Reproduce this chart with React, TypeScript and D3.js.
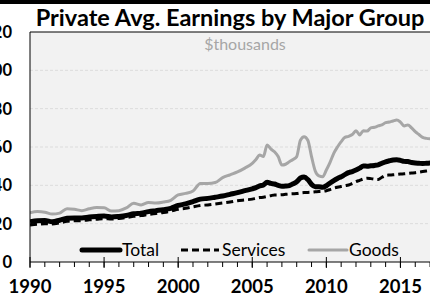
import React from "react";
import * as d3 from "d3";

const dates = [
  1990, 1990.5, 1991, 1991.5, 1992, 1992.5, 1993, 1993.5, 1994, 1994.5,
  1995, 1995.5, 1996, 1996.5, 1997, 1997.5, 1998, 1998.5, 1999, 1999.5,
  2000, 2000.5, 2001, 2001.5, 2002, 2002.5, 2003, 2003.5, 2004, 2004.5,
  2005, 2005.25, 2005.5, 2005.75, 2006, 2006.25, 2006.5, 2006.75,
  2007, 2007.25, 2007.5, 2007.75, 2008, 2008.25, 2008.5, 2008.75,
  2009, 2009.25, 2009.5, 2009.75, 2010, 2010.25, 2010.5, 2010.75,
  2011, 2011.25, 2011.5, 2011.75, 2012, 2012.25, 2012.5, 2012.75,
  2013, 2013.25, 2013.5, 2013.75, 2014, 2014.25, 2014.5, 2014.75,
  2015, 2015.25, 2015.5, 2015.75, 2016, 2016.25, 2016.5, 2016.75, 2017,
];

const goods = [
  25.7, 26.3, 26.0, 25.0, 25.5, 27.8, 27.5, 26.8, 27.8, 28.4,
  28.3, 26.6, 26.8, 28.2, 30.6, 29.8, 31.0, 30.8, 31.3, 32.2,
  35.0, 35.8, 37.0, 41.0, 41.0, 41.5, 44.0, 45.5, 47.0, 49.0,
  51.5, 53.5, 55.8, 55.0, 61.0, 59.0, 57.5, 55.0,
  50.6, 51.0, 52.3, 53.5, 55.0, 63.5, 65.4, 63.5,
  55.0, 47.5, 44.9, 44.5, 48.0, 52.0, 56.7, 60.0,
  62.8, 65.0, 65.5, 66.5, 68.5, 66.3, 68.5, 68.3,
  70.0, 70.3, 71.0, 71.5, 72.7, 73.0, 73.6, 74.1,
  73.0, 71.0, 71.5, 70.0, 68.0, 66.5, 65.0, 64.5, 64.3,
];

const total = [
  21.0, 21.5, 21.6, 21.0, 21.8, 22.8, 23.0, 23.0, 23.5, 23.8,
  24.0, 23.5, 23.8, 24.3, 25.2, 25.5, 26.3, 26.8, 27.3, 28.0,
  29.5, 30.3, 31.5, 32.8, 33.2, 33.8, 34.4, 35.3, 36.2, 37.2,
  38.2, 38.8, 39.7, 40.2, 41.6, 41.0, 40.7, 40.0,
  39.5, 39.6, 39.9, 40.8, 41.9, 43.8, 44.3, 43.0,
  40.5, 39.3, 39.3, 39.0, 39.8, 41.2, 42.5, 43.6,
  44.5, 45.6, 46.6, 47.2, 48.0, 49.0, 50.1, 50.0,
  50.2, 50.4, 50.7, 51.5, 52.3, 52.8, 53.2, 53.3,
  53.0, 52.5, 52.4, 51.9, 51.6, 51.5, 51.4, 51.5, 51.6,
];

const services = [
  19.3, 19.7, 20.0, 19.8, 20.4, 21.2, 21.5, 21.6, 22.0, 22.3,
  22.6, 22.4, 22.7, 23.2, 23.8, 24.2, 24.8, 25.3, 25.8, 26.5,
  27.5, 28.0, 28.8, 29.5, 29.8, 30.3, 30.8, 31.3, 32.0, 32.4,
  32.8, 33.2, 33.6, 33.8, 34.2, 34.6, 35.0, 35.0,
  35.1, 35.3, 35.5, 35.6, 35.7, 36.0, 36.2, 36.3,
  36.4, 36.6, 36.8, 36.9, 37.2, 37.8, 38.5, 39.0,
  39.4, 39.8, 40.2, 41.0, 41.9, 42.6, 43.3, 43.7,
  43.5, 43.2, 43.1, 44.2, 45.2, 45.4, 45.5, 45.7,
  45.9, 46.0, 46.2, 46.4, 46.6, 46.9, 47.2, 47.5, 47.8,
];

const yTicks = [0, 20, 40, 60, 80, 100, 120];
const xMajor = [1990, 1995, 2000, 2005, 2010, 2015];
const xMinor = d3.range(1990, 2018);
const title = "Private Avg. Earnings by Major Group";
const subtitle = "$thousands";
const legendItems = ["Total", "Services", "Goods"];

const W = 430;
const H = 299;
const left = 30;
const top = 32;
const bottom = 262;
const right = 440;

export default function App() {
  const x = d3.scaleLinear().domain([1990, 2017.67]).range([left, right]);
  const y = d3.scaleLinear().domain([0, 120]).range([bottom, top]);
  const line = (vals: number[]) =>
    d3
      .line<number>()
      .x((_, i) => x(dates[i]))
      .y((v) => y(v))
      .curve(d3.curveMonotoneX)(vals) as string;

  const font = "Lato, 'Open Sans', sans-serif";
  const legend = [
    { label: legendItems[0], x1: 82, x2: 120, tx: 122, stroke: "#000", w: 5, dash: undefined },
    { label: legendItems[1], x1: 181, x2: 219, tx: 222, stroke: "#000", w: 3, dash: "7,4" },
    { label: legendItems[2], x1: 309, x2: 347, tx: 349, stroke: "#a6a6a6", w: 3, dash: undefined },
  ];

  return (
    <svg
      width={W}
      height={H}
      style={{ position: "absolute", left: 0, top: 0, background: "#fff" }}
      fontFamily={font}
    >
      <defs>
        <clipPath id="plot">
          <rect x={left} y={top} width={W - left} height={bottom - top} />
        </clipPath>
      </defs>
      <rect x={0} y={0} width={W} height={4} fill="#000" />
      <text x={230} y={26} textAnchor="middle" fontWeight="bold" fontSize={23.5} fill="#000">
        {title}
      </text>
      <rect x={left} y={top} width={W - left} height={bottom - top} fill="#f2f2f2" />
      {yTicks.filter((t) => t > 0 && t < 120).map((t) => (
        <line key={t} x1={left} x2={W} y1={y(t)} y2={y(t)} stroke="#dcdcdc" strokeWidth={1} strokeDasharray="3,2" />
      ))}
      <text x={245} y={50} textAnchor="middle" fontSize={16} fill="#a6a6a6">
        {subtitle}
      </text>
      <g clipPath="url(#plot)">
        <path d={line(goods)} fill="none" stroke="#a6a6a6" strokeWidth={3} strokeLinejoin="round" />
        <path d={line(services)} fill="none" stroke="#000" strokeWidth={3} strokeDasharray="7,4" />
        <path d={line(total)} fill="none" stroke="#000" strokeWidth={5} strokeLinejoin="round" />
      </g>
      <line x1={left} x2={W} y1={top} y2={top} stroke="#000" strokeWidth={1} />
      <line x1={left} x2={left} y1={top} y2={bottom} stroke="#000" strokeWidth={1} />
      <line x1={left} x2={W} y1={bottom} y2={bottom} stroke="#000" strokeWidth={1} />
      {xMinor.map((t) => (
        <line key={"m" + t} x1={x(t)} x2={x(t)} y1={bottom} y2={bottom + 5} stroke="#000" strokeWidth={1} />
      ))}
      {xMajor.map((t) => (
        <g key={"M" + t}>
          <line x1={x(t)} x2={x(t)} y1={bottom - 5} y2={bottom + 6} stroke="#000" strokeWidth={1} />
          <text x={x(t)} y={293} textAnchor="middle" fontWeight="bold" fontSize={18.5} fill="#000">
            {t}
          </text>
        </g>
      ))}
      {yTicks.map((t) => (
        <text key={"y" + t} x={12} y={y(t) + 6} textAnchor="end" fontWeight="bold" fontSize={16.5} fill="#000">
          {t}
        </text>
      ))}
      {legend.map((l) => (
        <g key={l.label}>
          <line x1={l.x1} x2={l.x2} y1={250} y2={250} stroke={l.stroke} strokeWidth={l.w} strokeDasharray={l.dash} strokeLinecap={l.dash ? "butt" : "round"} />
          <text x={l.tx} y={256} fontSize={17.5} fill="#000">
            {l.label}
          </text>
        </g>
      ))}
    </svg>
  );
}
